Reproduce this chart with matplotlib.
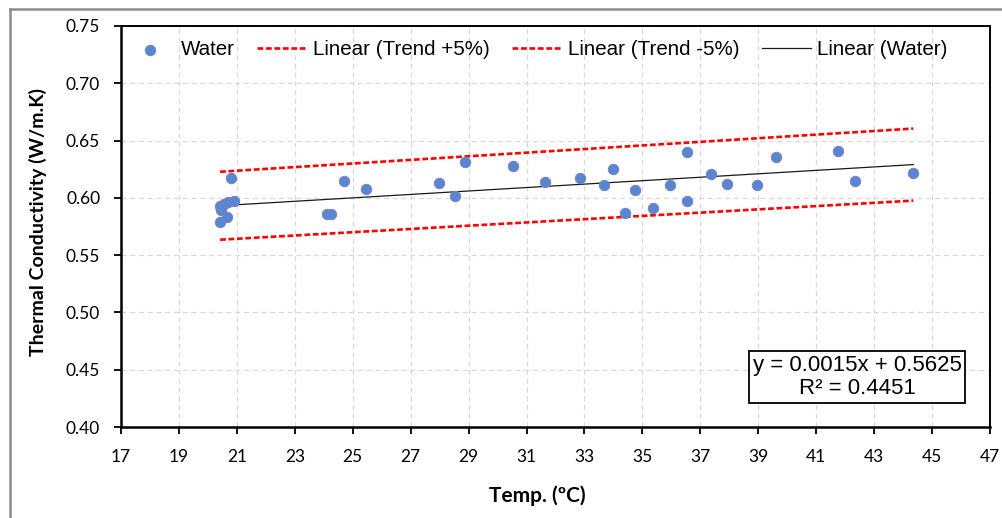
import matplotlib
matplotlib.use("Agg")
import matplotlib.pyplot as plt
import numpy as np
from matplotlib.lines import Line2D

# Measured thermal conductivity of water vs temperature
temp_c = [20.42, 20.65, 20.45, 20.42, 20.55, 20.70, 20.90, 20.80,
          24.10, 24.25, 24.71, 25.46, 27.99, 28.53, 28.87, 30.52,
          31.64, 32.84, 33.67, 33.97, 34.41, 34.75, 35.38, 35.95,
          36.55, 36.55, 37.36, 37.91, 38.94, 39.61, 41.75, 42.34, 44.35]
conductivity = [0.579, 0.583, 0.589, 0.593, 0.595, 0.596, 0.597, 0.617,
                0.586, 0.586, 0.615, 0.608, 0.613, 0.602, 0.631, 0.628,
                0.614, 0.617, 0.611, 0.625, 0.587, 0.607, 0.591, 0.611,
                0.640, 0.597, 0.621, 0.612, 0.611, 0.636, 0.641, 0.615, 0.622]

# Linear fit reported on the chart
slope = 0.0015
intercept = 0.5625
r_squared = 0.4451
band = 0.05  # +/- 5 % envelope

x_ticks = list(range(17, 48, 2))
y_ticks = [0.40, 0.45, 0.50, 0.55, 0.60, 0.65, 0.70, 0.75]

W, H = 1003, 518
fig = plt.figure(figsize=(W / 100, H / 100), dpi=100)
ax = fig.add_axes([121 / W, 1 - 427 / H, (990 - 121) / W, (427 - 26) / H])

tick_font = "Lato"
text_font = "Liberation Sans"

# Trend lines
xt = np.array([min(temp_c), max(temp_c)])
yt = slope * xt + intercept
ax.plot(xt, yt * (1 + band), color="#FF0000", lw=1.9, ls=(0, (2.2, 1.0)),
        label="Linear (Trend +5%)", zorder=3)
ax.plot(xt, yt * (1 - band), color="#FF0000", lw=1.9, ls=(0, (2.2, 1.0)),
        label="Linear (Trend -5%)", zorder=3)
ax.plot(xt, yt, color="#1a1a1a", lw=0.9, label="Linear (Water)", zorder=4)

# Data points
sc = ax.scatter(temp_c, conductivity, s=56, facecolor="#5687D0",
                edgecolor="#7B7FC4", linewidths=0.7, label="Water", zorder=5)

ax.set_xlim(17, 47)
ax.set_ylim(0.40, 0.75)
ax.set_xticks(x_ticks)
ax.set_yticks(y_ticks)
ax.set_xticklabels([str(v) for v in x_ticks], fontfamily=tick_font, fontsize=12.5)
ax.set_yticklabels([f"{v:.2f}" for v in y_ticks], fontfamily=tick_font, fontsize=12.5)
ax.tick_params(axis="both", direction="out", length=5, width=1.3, color="black")
ax.tick_params(axis="x", pad=11)
ax.tick_params(axis="y", pad=10)

ax.grid(True, color="#D9D9D9", lw=0.9, ls=(0, (4, 3)), zorder=0)
ax.set_axisbelow(True)
for side in ["left", "bottom", "top", "right"]:
    ax.spines[side].set_color("black")
    ax.spines[side].set_linewidth(1.4)
ax.spines["left"].set_linewidth(1.8)
ax.spines["bottom"].set_linewidth(1.8)

ax.set_xlabel("Temp. (ºC)", fontfamily=tick_font, fontweight="bold", fontsize=15)
ax.xaxis.set_label_coords((537.5 - 121) / 869, (427 - 485) / 401)
ax.set_ylabel("Thermal Conductivity (W/m.K)", fontfamily=tick_font,
              fontweight="bold", fontsize=14)
ax.yaxis.set_label_coords((47 - 121) / 869, (427 - 222) / 401)

# Legend across the top of the plot area
handles = [sc] + ax.get_lines()[:3]
labels = ["Water", "Linear (Trend +5%)", "Linear (Trend -5%)", "Linear (Water)"]
leg = ax.legend(handles, labels, loc="center left", ncol=4, frameon=False,
                bbox_to_anchor=(0.005, (427 - 49.7) / 401),
                borderpad=0, borderaxespad=0, handlelength=2.4,
                handletextpad=0.3, columnspacing=1.1,
                prop={"family": text_font, "size": 14.8}, scatterpoints=1)

# Regression equation box
ax.text((857 - 121) / 869, (427 - 377) / 401,
        f"y = {slope}x + {intercept}\nR² = {r_squared}",
        transform=ax.transAxes, ha="center", va="center",
        fontfamily=text_font, fontsize=16, linespacing=1.15, zorder=6,
        bbox=dict(boxstyle="square,pad=0.18", facecolor="white",
                  edgecolor="black", lw=1.3))

# Outer frame (left and top edges)
fig.add_artist(Line2D([10 / W, 10 / W], [0, 1 - 9 / H], transform=fig.transFigure,
                      color="#8C8C8C", lw=1.8))
fig.add_artist(Line2D([10 / W, 1], [1 - 9 / H, 1 - 9 / H], transform=fig.transFigure,
                      color="#8C8C8C", lw=1.8))

fig.savefig("out.png", dpi=100, facecolor="white")
